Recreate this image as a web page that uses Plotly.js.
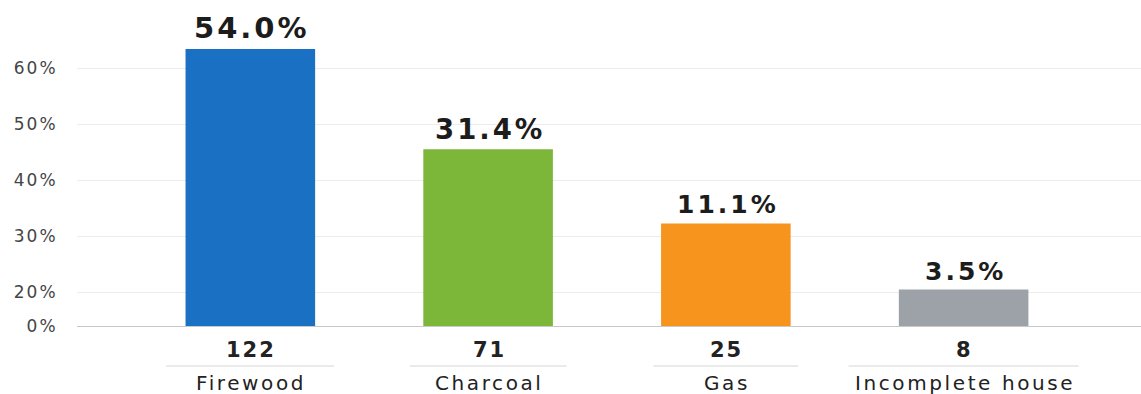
<!DOCTYPE html>
<html>
<head>
<meta charset="utf-8">
<script src="https://cdn.plot.ly/plotly-3.0.1.min.js"></script>
<style>html,body{margin:0;padding:0;background:#fff;}#chart{width:1141px;height:394px;}</style>
</head>
<body>
<div id="chart"></div>
<script>
// ---- data ----
var categories = ["Firewood", "Charcoal", "Gas", "Incomplete house"];
var barHeights = [63.4, 45.5, 32.3, 20.5];          // bar heights read on the drawn (non-linear) axis
var percentLabels = ["54.0%", "31.4%", "11.1%", "3.5%"];
var counts = [122, 71, 25, 8];
var tickValues = [14.0, 20, 30, 40, 50, 60];
var tickLabels = ["0%", "20%", "30%", "40%", "50%", "60%"];

// ---- styles ----
var barColors = ["#1a70c2", "#7cb73a", "#f7941d", "#9da2a8"];
var pctSizes = [29, 27.5, 25, 25];
var sepWidths = [168, 157, 145, 230]; // px
var pxPerCat = 237.76;

function spaced(t, px) { return '<span style="letter-spacing:' + px + 'px">' + t + '</span>'; }

var trace = {
  type: "bar",
  x: categories,
  y: barHeights,
  width: 0.545,
  marker: { color: barColors, line: { width: 0 } },
  hoverinfo: "none"
};

var annotations = [];
var shapes = [];
categories.forEach(function (c, i) {
  annotations.push({
    x: c, y: barHeights[i], xref: "x", yref: "y",
    text: spaced(percentLabels[i], 3), showarrow: false,
    yanchor: "bottom", xanchor: "center", yshift: 2, xshift: 2,
    font: { family: "DejaVu Sans", size: pctSizes[i], color: "#1c1c1c", weight: 700 }
  });
  annotations.push({
    x: c, y: -0.0736, xref: "x", yref: "paper",
    text: spaced(String(counts[i]), 2), showarrow: false,
    yanchor: "middle", xanchor: "center", xshift: 1,
    font: { family: "DejaVu Sans", size: 21, color: "#222", weight: 700 }
  });
  annotations.push({
    x: c, y: -0.175, xref: "x", yref: "paper",
    text: spaced(c, 2.6), showarrow: false,
    yanchor: "middle", xanchor: "center", xshift: 1,
    font: { family: "DejaVu Sans", size: 20, color: "#222" }
  });
  var hw = sepWidths[i] / 2 / pxPerCat;
  shapes.push({
    type: "line", xref: "x", yref: "paper",
    x0: i - hw, x1: i + hw, y0: -0.1227, y1: -0.1227,
    line: { color: "#d6d6d6", width: 1 }
  });
});

var layout = {
  width: 1141, height: 394,
  margin: { l: 77, r: 0, t: 0, b: 68 },
  paper_bgcolor: "#ffffff", plot_bgcolor: "#ffffff",
  showlegend: false,
  xaxis: {
    type: "category",
    range: [-0.729, 3.746],
    showticklabels: false, showgrid: false, zeroline: false,
    showline: true, linecolor: "#c9c9c9", linewidth: 1,
    fixedrange: true
  },
  yaxis: {
    range: [14.0, 72.14],
    tickmode: "array",
    tickvals: tickValues,
    ticktext: tickLabels.map(function (t) { return spaced(t, 2); }),
    showgrid: true, gridcolor: "#ececec", gridwidth: 1,
    zeroline: false, showline: false,
    ticks: "outside", ticklen: 15, tickcolor: "rgba(0,0,0,0)",
    tickfont: { family: "DejaVu Sans", size: 17, color: "#454545" },
    fixedrange: true
  },
  annotations: annotations,
  shapes: shapes
};

Plotly.newPlot("chart", [trace], layout, { displayModeBar: false, staticPlot: true });
</script>
</body>
</html>
